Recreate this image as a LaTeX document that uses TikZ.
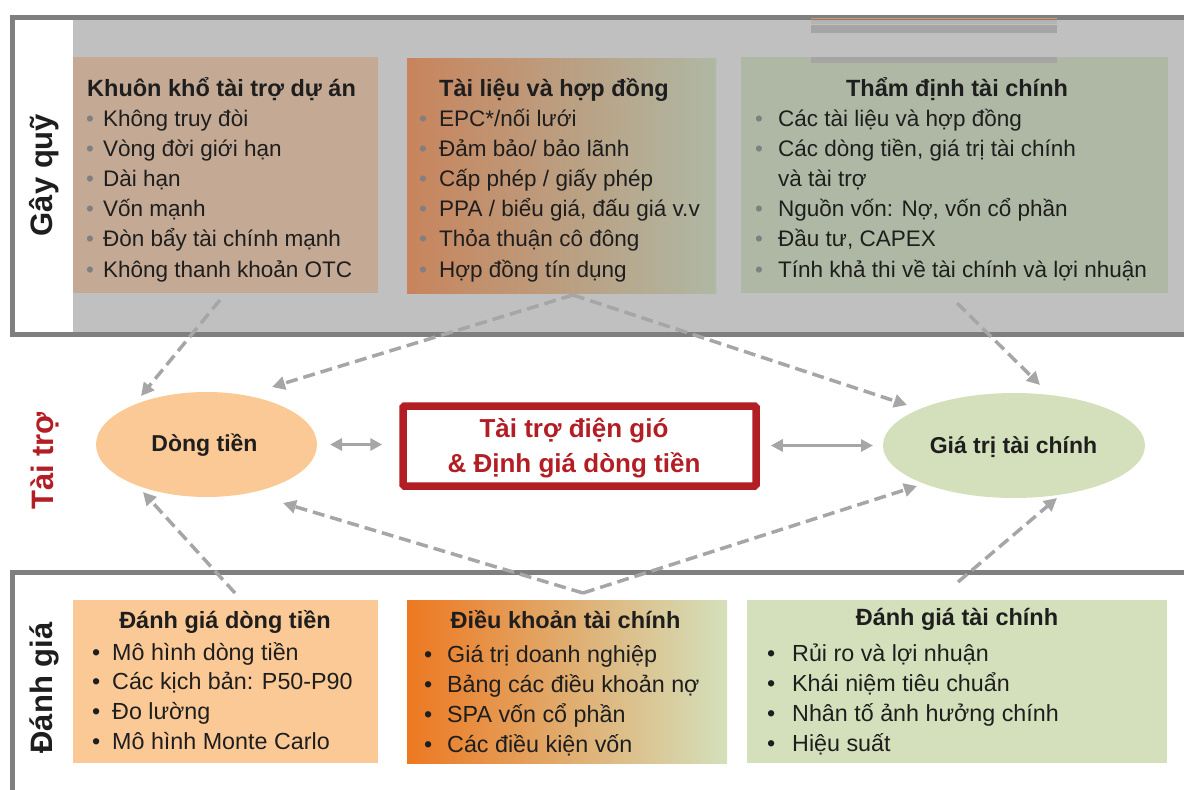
\documentclass[tikz,border=0pt]{standalone}
\usepackage{fontspec}
\setmainfont{Liberation Sans}
\usetikzlibrary{arrows.meta,shapes.geometric}

\definecolor{framegray}{HTML}{7F7F7F}
\definecolor{bandgray}{HTML}{C0C0C0}
\definecolor{tanfill}{HTML}{C4A994}
\definecolor{rustL}{HTML}{C8845C}
\definecolor{rustM}{HTML}{B8A894}
\definecolor{sageR}{HTML}{AFB8A4}
\definecolor{peach}{HTML}{FBC995}
\definecolor{lightgreen}{HTML}{D4E0BB}
\definecolor{orangeL}{HTML}{ED7821}
\definecolor{orangeM}{HTML}{E4B282}
\definecolor{deepred}{HTML}{B21E24}
\definecolor{linkgray}{HTML}{A6A6A6}
\definecolor{ink}{HTML}{1E1E1E}
\definecolor{dotgray}{HTML}{808080}
\definecolor{stripeorange}{HTML}{E0935F}
\definecolor{stripegray}{HTML}{A5A5A5}
\definecolor{stripelight}{HTML}{B4B4B4}

% bullet in a fixed-width box, then the item text
\newcommand\bulletline[3]{\makebox[#1][l]{\textcolor{#2}{•}}#3}

\tikzset{
  panel/.style={anchor=north west, inner sep=0, outer sep=0},
  toptext/.style={anchor=base west, inner sep=0, text=ink, font=\fontsize{22.5}{26}\selectfont},
  bottext/.style={anchor=base west, inner sep=0, text=ink, font=\fontsize{23.3}{27}\selectfont},
  heading/.style={inner sep=0, text=ink, font=\bfseries\fontsize{23.5}{28}\selectfont},
  sidelabel/.style={rotate=90, anchor=base, inner sep=0, font=\bfseries\fontsize{31}{36}\selectfont},
  bubble/.style={ellipse, inner sep=0, outer sep=0},
  bubbletext/.style={anchor=base, inner sep=0, text=ink, font=\bfseries\fontsize{23}{27}\selectfont},
  coretext/.style={anchor=base, inner sep=0, text=deepred, font=\bfseries\fontsize{26}{30}\selectfont},
  flow/.style={draw=linkgray, line width=3.5pt, dash pattern=on 12pt off 6pt,
    -{Triangle[length=13pt,width=13pt]}},
  link/.style={draw=linkgray, line width=3.5pt,
    {Triangle[length=12pt,width=12pt]}-{Triangle[length=12pt,width=12pt]}},
}

\begin{document}
\begin{tikzpicture}[x=1pt,y=-1pt]
\useasboundingbox (0,0) rectangle (1184,790);
\clip (0,0) rectangle (1184,790);

% ---------- upper band: funding ----------
\fill[bandgray] (73,19) rectangle (1200,333);
\draw[framegray, line width=4.5pt] (1200,17.5) -- (12.3,17.5) -- (12.3,334.5) -- (1200,334.5);

% thin stripes along the top edge
\fill[stripelight] (811,19.5) rectangle (1057,24);
\fill[stripegray] (811,24.5) rectangle (1057,33);
\draw[stripeorange, line width=1.2pt] (811,18.8) -- (1057,18.8);

\node[panel, fill=tanfill, minimum width=305pt, minimum height=236pt] (tl) at (73,57) {};
\node[panel, left color=rustL, middle color=rustM, right color=sageR,
      minimum width=309pt, minimum height=235pt] (tm) at (407,58) {};
\node[panel, fill=sageR, minimum width=427pt, minimum height=236pt] (tr) at (741,57) {};
\fill[stripegray] (811,57) rectangle (1057,63);

\node[sidelabel, text=ink] (gq) at (52,175) {Gây quỹ};

\node[heading, anchor=base west] (tlh) at (87,96) {Khuôn khổ tài trợ dự án};
\foreach \t [count=\i] in {Không truy đòi, Vòng đời giới hạn, Dài hạn, Vốn mạnh,
    Đòn bẩy tài chính mạnh, Không thanh khoản OTC}
  \node[toptext] (tl\i) at (86,{126+30.2*(\i-1)}) {\bulletline{17pt}{dotgray}{\t}};

\node[heading, anchor=base west] (tmh) at (439,96) {Tài liệu và hợp đồng};
\foreach \t [count=\i] in {EPC*/nối lưới, Đảm bảo/ bảo lãnh, Cấp phép / giấy phép,
    {PPA / biểu giá, đấu giá v.v}, Thỏa thuận cô đông, Hợp đồng tín dụng}
  \node[toptext] (tm\i) at (419,{126+30.2*(\i-1)}) {\bulletline{20pt}{dotgray}{\t}};

\node[heading, anchor=base] (trh) at (957,96) {Thẩm định tài chính};
\node[toptext] (tr1) at (755,126) {\bulletline{23pt}{dotgray}{Các tài liệu và hợp đồng}};
\node[toptext] (tr2) at (755,156.2) {\bulletline{23pt}{dotgray}{Các dòng tiền, giá trị tài chính}};
\node[toptext] (tr3) at (778,186.4) {và tài trợ};
\node[toptext] (tr4) at (755,216.6) {\bulletline{23pt}{dotgray}{Nguồn vốn: Nợ, vốn cổ phần}};
\node[toptext] (tr5) at (755,246.8) {\bulletline{23pt}{dotgray}{Đầu tư, CAPEX}};
\node[toptext] (tr6) at (755,277) {\bulletline{23pt}{dotgray}{Tính khả thi về tài chính và lợi nhuận}};

% ---------- lower band: assessment ----------
\draw[framegray, line width=4.5pt] (12.5,800) -- (12.5,572.5) -- (1200,572.5);

\node[panel, fill=peach, minimum width=305pt, minimum height=163pt] (bl) at (73,600) {};
\node[panel, left color=orangeL, middle color=orangeM, right color=lightgreen,
      minimum width=320pt, minimum height=163pt] (bm) at (407,600) {};
\node[panel, fill=lightgreen, minimum width=420pt, minimum height=163pt] (br) at (747,600) {};

\node[sidelabel, text=ink] (dg) at (52,688) {Đánh giá};

\node[heading, anchor=base] (blh) at (225,628) {Đánh giá dòng tiền};
\foreach \t [count=\i] in {Mô hình dòng tiền, {Các kịch bản: P50-P90}, Đo lường, Mô hình Monte Carlo}
  \node[bottext] (bl\i) at (92,{660+29.7*(\i-1)}) {\bulletline{20pt}{ink}{\t}};

\node[heading, anchor=base] (bmh) at (565.5,628) {Điều khoản tài chính};
\foreach \t [count=\i] in {Giá trị doanh nghiệp, Bảng các điều khoản nợ, SPA vốn cổ phần, Các điều kiện vốn}
  \node[bottext] (bm\i) at (424,{662+30*(\i-1)}) {\bulletline{23pt}{ink}{\t}};

\node[heading, anchor=base] (brh) at (957,625) {Đánh giá tài chính};
\foreach \t [count=\i] in {Rủi ro và lợi nhuận, Khái niệm tiêu chuẩn, Nhân tố ảnh hưởng chính, Hiệu suất}
  \node[bottext] (br\i) at (767,{661+30*(\i-1)}) {\bulletline{25pt}{ink}{\t}};

% ---------- middle row: financing ----------
\node[sidelabel, text=deepred] (tt) at (53,461) {Tài trợ};

\node[bubble, fill=peach, minimum width=221pt, minimum height=105pt] (dt) at (206.5,444.5) {};
\node[bubbletext] (dtl) at (204.5,451) {Dòng tiền};

\node[bubble, fill=lightgreen, minimum width=262pt, minimum height=105pt] (gv) at (1014,445.5) {};
\node[bubbletext] (gvl) at (1013.5,453) {Giá trị tài chính};

\node[draw=deepred, line width=7.5pt, rounded corners=1.5pt, minimum width=353pt,
      minimum height=80pt, inner sep=0] (core) at (579.5,446) {};
\node[coretext] (core1) at (574,437) {Tài trợ điện gió};
\node[coretext] (core2) at (574,472) {\& Định giá dòng tiền};

\draw[link, shorten <=13pt, shorten >=17pt] (dt.east) -- (dt.east -| core.west);
\draw[link, shorten <=11pt, shorten >=10pt] (core.east |- gv.west) -- (gv.west);

% ---------- dashed influence arrows ----------
\coordinate (s1) at (220,300);
\coordinate (s2) at (573,295);
\coordinate (s3) at (957,303);
\coordinate (s4) at (235,593);
\coordinate (s5) at (583,593);
\coordinate (s6) at (958,582);

\coordinate (t1) at (141,396);
\coordinate (t2) at (272,387);
\coordinate (t3) at (907,405);
\coordinate (t4) at (1040,385);
\coordinate (t5) at (143,492);
\coordinate (t6) at (283,503);
\coordinate (t7) at (917,486);
\coordinate (t8) at (1057,498);

\draw[flow] (s1) -- (t1);
\draw[flow] (s2) -- (t2);
\draw[flow] (s2) -- (t3);
\draw[flow] (s3) -- (t4);
\draw[flow] (s4) -- (t5);
\draw[flow] (s5) -- (t6);
\draw[flow] (s5) -- (t7);
\draw[flow] (s6) -- (t8);
\end{tikzpicture}
\end{document}
